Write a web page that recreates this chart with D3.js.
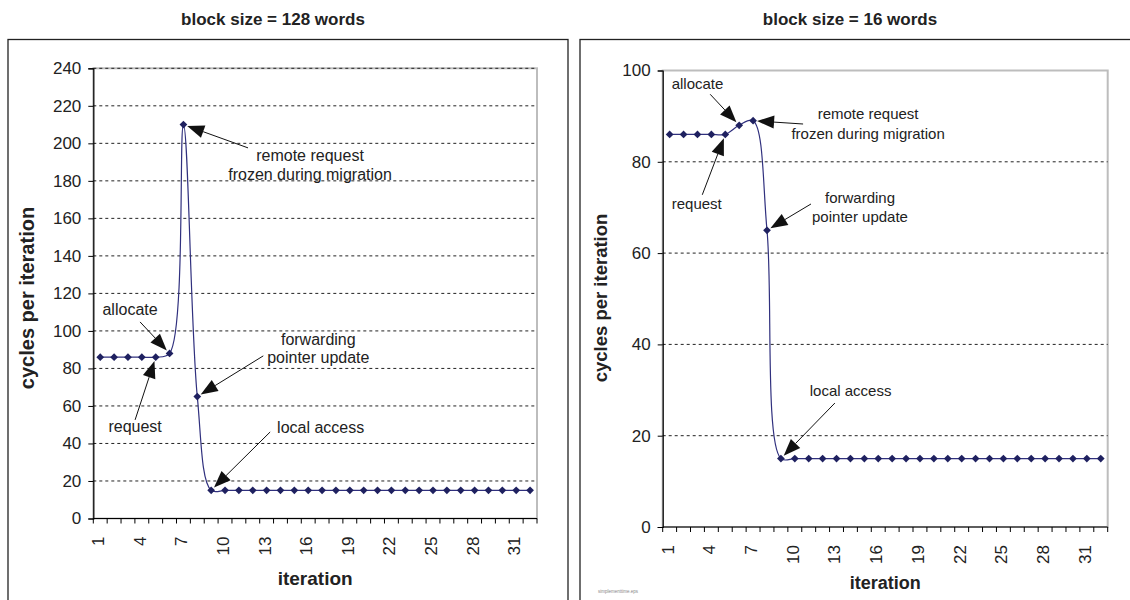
<!DOCTYPE html>
<html><head><meta charset="utf-8">
<script src="https://cdn.jsdelivr.net/npm/d3@7"></script>
<style>
body{margin:0;background:#fff;}
svg{display:block;font-family:Arial,"Liberation Sans",Helvetica,sans-serif;}
</style>
</head><body>
<svg id="chart" width="1130" height="600"></svg>
<script>
// ---------- data ----------
const iterations = [1,2,3,4,5,6,7,8,9,10,11,12,13,14,15,16,17,18,19,20,21,22,23,24,25,26,27,28,29,30,31,32];
const cycles128 = [86,86,86,86,86,88,210,65,15,15,15,15,15,15,15,15,15,15,15,15,15,15,15,15,15,15,15,15,15,15,15,15];
const cycles16  = [86,86,86,86,86,88,89,65,15,15,15,15,15,15,15,15,15,15,15,15,15,15,15,15,15,15,15,15,15,15,15,15];
const yTicks128 = [0,20,40,60,80,100,120,140,160,180,200,220,240];
const yTicks16  = [0,20,40,60,80,100];
const grid128   = [20,40,60,80,100,120,140,160,180,200,220,240];
const grid16    = [20,40,60,80];
const xTickLabels = [1,4,7,10,13,16,19,22,25,28,31];
const titles = ["block size = 128 words", "block size = 16 words"];
const yTitle = "cycles per iteration";
const xTitle = "iteration";
const notes128 = [
  {lines:["allocate"], iter:6},
  {lines:["request"], iter:5},
  {lines:["remote request","frozen during migration"], iter:7},
  {lines:["forwarding","pointer update"], iter:8},
  {lines:["local access"], iter:9}
];
const notes16 = [
  {lines:["allocate"], iter:6},
  {lines:["request"], iter:5},
  {lines:["remote request","frozen during migration"], iter:7},
  {lines:["forwarding","pointer update"], iter:8},
  {lines:["local access"], iter:9}
];

// ---------- layout (pixel offsets for annotation text / arrow tails, relative to the point) ----------
const layout128 = {
  bx:8, bw:560, left:93.3, right:537, top:68.3, bottom:518.5, yMax:240,
  titleX:273, yTitleX:27, yTitleY:298, yTitleSize:20, xTitleSize:19, xTitleY:585, noteSize:16,
  notes:[
    {tail:[-29.5,-31.5], label:[-39.5,-38], lh:19},
    {tail:[-20.6,62.7], label:[-20.6,75], lh:19},
    {tail:[64.6,23.3], label:[126.6,36], lh:19},
    {tail:[66,-40.7], label:[121,-51.7], lh:18.5},
    {tail:[59,-58.4], label:[109.5,-57], lh:19}
  ]
};
const layout16 = {
  bx:580, bw:560, left:662.7, right:1107.7, top:70.5, bottom:527, yMax:100,
  titleX:850, yTitleX:601, yTitleY:298, yTitleSize:18.5, xTitleSize:18, xTitleY:589, noteSize:15,
  notes:[
    {tail:[-29,-31], label:[-41.7,-36], lh:19},
    {tail:[-23,60.4], label:[-28.5,74.4], lh:19},
    {tail:[50,3.3], label:[115,-1.7], lh:20},
    {tail:[44,-26.3], label:[93,-27], lh:18.5},
    {tail:[54,-55.5], label:[69.7,-62.5], lh:19}
  ]
};

const svg = d3.select("#chart");
const textColor = "#222";

function arrow(g, tail, pt){
  const dx = tail[0]-pt[0], dy = tail[1]-pt[1];
  const L = Math.hypot(dx,dy), ux = dx/L, uy = dy/L;
  const tip = [pt[0]+ux*4, pt[1]+uy*4];
  const hl = 17, hw = 6.5;
  const base = [tip[0]+ux*hl, tip[1]+uy*hl];
  g.append("line").attr("x1",tail[0]).attr("y1",tail[1]).attr("x2",base[0]).attr("y2",base[1])
    .attr("stroke","#111").attr("stroke-width",1);
  g.append("path")
    .attr("d", d3.line()([tip,[base[0]-uy*hw, base[1]+ux*hw],[base[0]+uy*hw, base[1]-ux*hw]]) + "Z")
    .attr("fill","#111");
}

function drawPanel(values, yTicks, gridVals, notes, L, title){
  const g = svg.append("g");
  // panel frame
  g.append("rect").attr("x",L.bx).attr("y",39.5).attr("width",L.bw).attr("height",600)
    .attr("fill","none").attr("stroke","#222").attr("stroke-width",1.3);
  // title
  g.append("text").attr("x",L.titleX).attr("y",25).attr("text-anchor","middle")
    .attr("font-size",17).attr("font-weight","bold").attr("fill",textColor).text(title);

  const x = d3.scaleBand().domain(iterations).range([L.left, L.right]);
  const y = d3.scaleLinear().domain([0, L.yMax]).range([L.bottom, L.top]);
  const cx = d => x(d) + x.bandwidth()/2;

  // plot area border (grey)
  g.append("rect").attr("x",L.left).attr("y",L.top).attr("width",L.right-L.left).attr("height",L.bottom-L.top)
    .attr("fill","none").attr("stroke","#bdbdbd").attr("stroke-width",2);
  // gridlines
  g.selectAll(".grid").data(gridVals).join("line")
    .attr("x1",L.left).attr("x2",L.right).attr("y1",d=>y(d)).attr("y2",d=>y(d))
    .attr("stroke","#222").attr("stroke-width",1).attr("stroke-dasharray","3,3");

  // y axis
  const ya = g.append("g").attr("transform",`translate(${L.left},0)`)
    .call(d3.axisLeft(y).tickValues(yTicks).tickSize(5).tickPadding(7).tickFormat(d3.format("d")));
  ya.select(".domain").attr("stroke","#000").attr("stroke-width",1.2);
  ya.selectAll(".tick line").attr("stroke","#000");
  ya.selectAll(".tick text").attr("font-size",17).attr("fill",textColor).attr("font-family","Arial, Liberation Sans, sans-serif");

  // x axis line + boundary ticks
  g.append("line").attr("x1",L.left).attr("x2",L.right).attr("y1",L.bottom).attr("y2",L.bottom)
    .attr("stroke","#000").attr("stroke-width",1.2);
  const bounds = iterations.map(d => x(d)).concat([x.range()[1]]);
  g.selectAll(".xt").data(bounds).join("line")
    .attr("x1",d=>d).attr("x2",d=>d).attr("y1",L.bottom).attr("y2",L.bottom+5)
    .attr("stroke","#000").attr("stroke-width",1);
  g.selectAll(".xl").data(xTickLabels).join("text")
    .attr("transform", d => `translate(${cx(d)-2},${L.bottom+18}) rotate(-90)`)
    .attr("text-anchor","end").attr("dy","0.35em")
    .attr("font-size",17).attr("fill",textColor).text(d=>d);

  // axis titles
  g.append("text").attr("transform",`translate(${L.yTitleX},${L.yTitleY}) rotate(-90)`)
    .attr("text-anchor","middle").attr("dy","0.35em")
    .attr("font-size",L.yTitleSize).attr("font-weight","bold").attr("fill",textColor).text(yTitle);
  g.append("text").attr("x",(L.left+L.right)/2).attr("y",L.xTitleY).attr("text-anchor","middle")
    .attr("font-size",L.xTitleSize).attr("font-weight","bold").attr("fill",textColor).text(xTitle);

  // series
  const pts = iterations.map((d,i)=>[cx(d), y(values[i])]);
  g.append("path").attr("d", d3.line().curve(d3.curveCatmullRom.alpha(0.5))(pts))
    .attr("fill","none").attr("stroke","#30307e").attr("stroke-width",1.2);
  g.selectAll(".mk").data(pts).join("path")
    .attr("transform", p => `translate(${p[0]},${p[1]}) rotate(45)`)
    .attr("d", d3.symbol(d3.symbolSquare, 30)())
    .attr("fill","#1f2160");

  // annotations
  notes.forEach((n,k)=>{
    const lay = L.notes[k];
    const p = [cx(n.iter), y(values[iterations.indexOf(n.iter)])];
    arrow(g, [p[0]+lay.tail[0], p[1]+lay.tail[1]], p);
    n.lines.forEach((t,j)=>{
      g.append("text").attr("x",p[0]+lay.label[0]).attr("y",p[1]+lay.label[1]+j*lay.lh)
        .attr("text-anchor","middle").attr("font-size",L.noteSize).attr("fill",textColor).text(t);
    });
  });
}

drawPanel(cycles128, yTicks128, grid128, notes128, layout128, titles[0]);
drawPanel(cycles16, yTicks16, grid16, notes16, layout16, titles[1]);

// tiny file-name caption
svg.append("text").attr("x",598).attr("y",593).attr("font-size",4.5).attr("fill","#888").text("simplementtime.eps");
</script>
</body></html>
